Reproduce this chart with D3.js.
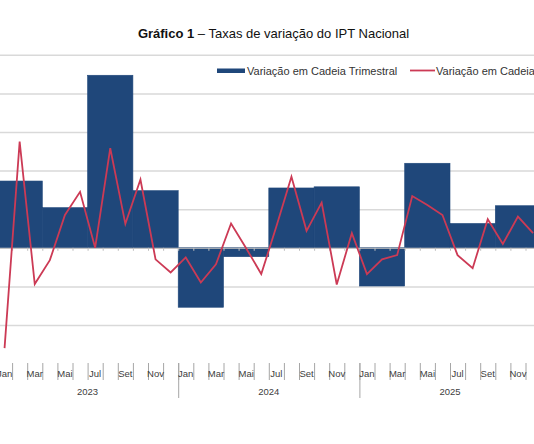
<!DOCTYPE html>
<html>
<head>
<meta charset="utf-8">
<script src="https://cdn.jsdelivr.net/npm/d3@7"></script>
<style>
  body { margin: 0; background: #fff; }
  svg { display: block; font-family: "Liberation Sans", Arial, sans-serif; }
</style>
</head>
<body>
<div id="chart"></div>
<script>
// months shown on the axis (only every second one gets a label)
var monthNames = ["Jan", "Fev", "Mar", "Abr", "Mai", "Jun", "Jul", "Ago", "Set", "Out", "Nov", "Dez"];
var years = ["2023", "2024", "2025"];

// quarterly chain variation (bars), Q1 2023 .. Q4 2025
var quarterly = [1.73, 1.04, 4.47, 1.48, -1.54, -0.23, 1.55, 1.58, -0.99, 2.19, 0.63, 1.09];

// monthly chain variation (line), Jan 2023 .. Dez 2025
var monthly = [
  -2.60, 2.75, -0.94, -0.32, 0.85, 1.45, 0.00, 2.58, 0.62, 1.77, -0.30, -0.64,
  -0.25, -0.90, -0.43, 0.63, -0.01, -0.68, 0.55, 1.84, 0.44, 1.17, -0.95, 0.38,
  -0.68, -0.30, -0.19, 1.34, 1.11, 0.85, -0.19, -0.53, 0.74, 0.10, 0.81, 0.38
];

var yTicks = [-2, -1, 0, 1, 2, 3, 4, 5];

var width = 534, height = 444;
var nMonths = monthly.length;

var svg = d3.select("#chart")
  .append("svg")
    .attr("width", width)
    .attr("height", height);

// the picture is a crop: the plot runs a little past both edges
var x = d3.scaleLinear()
    .domain([0, nMonths])
    .range([-3, 540.6]);

var y = d3.scaleLinear()
    .domain([-3, 5])
    .range([363.6, 54.8]);

// gridlines
var grid = svg.append("g")
    .attr("transform", "translate(" + x(0) + ",0)")
    .call(d3.axisLeft(y).tickValues(yTicks).tickSize(-(x(nMonths) - x(0))).tickFormat(""));
grid.select(".domain").remove();
grid.selectAll("line")
    .attr("stroke", "#d9d9d9")
    .attr("stroke-width", 1.5);

// quarterly bars
svg.selectAll("rect.q")
    .data(quarterly)
    .enter()
    .append("rect")
      .attr("class", "q")
      .attr("x", function(d, i) { return x(i * 3); })
      .attr("width", function(d, i) { return x(i * 3 + 3) - x(i * 3); })
      .attr("y", function(d) { return y(Math.max(0, d)); })
      .attr("height", function(d) { return Math.abs(y(d) - y(0)); })
      .attr("fill", "#1f477a")
      .attr("stroke", "#1f477a")
      .attr("stroke-width", 0.6);

// zero axis with small month ticks
var zero = svg.append("g")
    .attr("transform", "translate(0," + y(0) + ")")
    .call(d3.axisBottom(x).tickValues(d3.range(0, nMonths + 1)).tickSize(3).tickFormat(""));
zero.selectAll("line, path").attr("stroke", "#bfbfbf");

// monthly line
var line = d3.line()
    .x(function(d, i) { return x(i + 0.5); })
    .y(function(d) { return y(d); });

svg.append("path")
    .datum(monthly)
    .attr("d", line)
    .attr("fill", "none")
    .attr("stroke", "#cc3a55")
    .attr("stroke-width", 1.8)
    .attr("stroke-linejoin", "miter");

// category axis at the bottom: month separators
var axisTop = 363;
var monthAxis = svg.append("g")
    .attr("transform", "translate(0," + axisTop + ")")
    .call(d3.axisBottom(x).tickValues(d3.range(0, nMonths + 1)).tickSize(17).tickFormat(""));
monthAxis.select(".domain").remove();
monthAxis.selectAll("line").attr("stroke", "#a6a6a6");

// year separators
var yearAxis = svg.append("g")
    .attr("transform", "translate(0," + axisTop + ")")
    .call(d3.axisBottom(x).tickValues(d3.range(0, nMonths + 1, 12)).tickSize(35).tickFormat(""));
yearAxis.select(".domain").remove();
yearAxis.selectAll("line").attr("stroke", "#a6a6a6");

svg.selectAll("text.month")
    .data(monthly)
    .enter()
    .append("text")
      .attr("class", "month")
      .attr("x", function(d, i) { return x(i + 0.5); })
      .attr("y", 377)
      .attr("text-anchor", "middle")
      .style("font-size", "9.5px")
      .style("fill", "#404040")
      .text(function(d, i) { return i % 2 === 0 ? monthNames[i % 12] : ""; });

svg.selectAll("text.year")
    .data(years)
    .enter()
    .append("text")
      .attr("class", "year")
      .attr("x", function(d, i) { return x(i * 12 + 6); })
      .attr("y", 395)
      .attr("text-anchor", "middle")
      .style("font-size", "9.5px")
      .style("fill", "#404040")
      .text(function(d) { return d; });

// legend
var legend = svg.append("g").style("font-size", "11px").style("fill", "#333");
legend.append("rect")
    .attr("x", 217).attr("y", 68.5)
    .attr("width", 28).attr("height", 4.5)
    .attr("fill", "#1f477a");
legend.append("text")
    .attr("x", 247).attr("y", 75)
    .text("Variação em Cadeia Trimestral");
legend.append("line")
    .attr("x1", 410).attr("x2", 435)
    .attr("y1", 70.5).attr("y2", 70.5)
    .attr("stroke", "#cc3a55")
    .attr("stroke-width", 1.8);
legend.append("text")
    .attr("x", 436).attr("y", 75)
    .text("Variação em Cadeia Mensal");

// title
var title = svg.append("text")
    .attr("x", 273.5)
    .attr("y", 38)
    .attr("text-anchor", "middle")
    .style("font-size", "13px")
    .style("fill", "#111");
title.append("tspan").style("font-weight", "bold").text("Gráfico 1");
title.append("tspan").text(" – Taxas de variação do IPT Nacional");
</script>
</body>
</html>
